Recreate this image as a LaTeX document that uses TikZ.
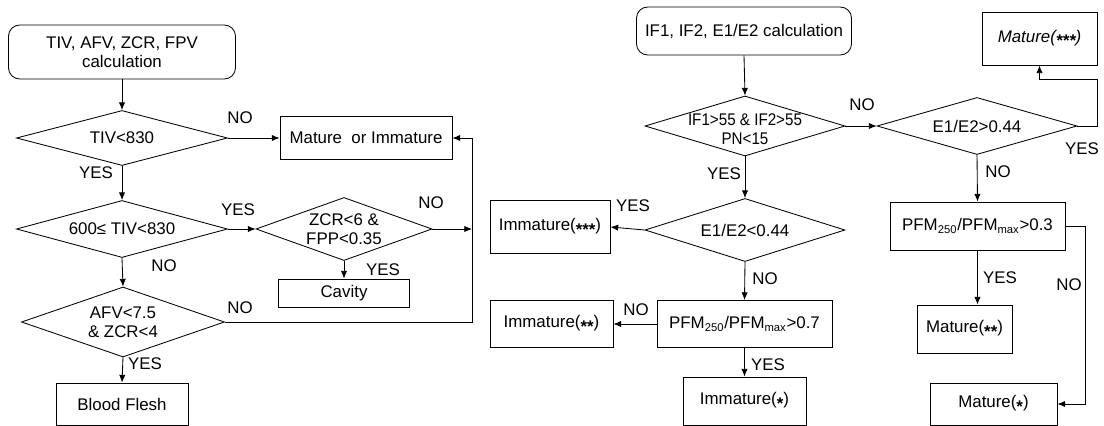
\documentclass[tikz,border=0pt]{standalone}
\usepackage{fontspec}
\setmainfont{Liberation Sans}
\newfontfamily\narrowfont[FakeStretch=0.9]{Liberation Sans}
\usepackage{tikz}
\usetikzlibrary{shapes.geometric,arrows.meta,calc}
\newcommand{\stars}[1]{\raisebox{-0.5ex}{\textbf{#1}}}

\begin{document}
\begin{tikzpicture}[x=0.025cm,y=-0.025cm,
        every node/.style={font=\fontsize{12}{13.5}\selectfont},
        box/.style={draw,rectangle,line width=0.6pt},
        start/.style={box,rounded corners=8pt,align=center},
        dec/.style={draw,diamond,line width=0.6pt,inner sep=0pt},
        lbl/.style={inner sep=0pt},
        arr/.style={line width=0.6pt,-{Latex[length=5.5pt,width=4.5pt]}},
        lin/.style={line width=0.6pt}]
        \useasboundingbox (0,0) rectangle (1104,426);

        \node[start,minimum width=5.675cm,minimum height=1.35cm] (sA) at (122,52) {TIV, AFV, ZCR, FPV\\calculation};
        \node[dec,minimum width=5.275cm,minimum height=1.375cm] (dA) at (122,138) {};
        \node (tA) at (dA) {TIV<830};
        \node[box,minimum width=4.3cm,minimum height=1.075cm] (bMI) at (366,138) {Mature\ \ or Immature};
        \node[dec,minimum width=5.275cm,minimum height=1.425cm] (dB) at (122,229) {};
        \node (tB) at (dB) {600≤ TIV<830};
        \node[dec,minimum width=4.4cm,minimum height=1.575cm] (dC) at (344,229) {};
        \node[align=center] (tC) at (dC) {ZCR<6 \&\\FPP<0.35};
        \node[box,minimum width=3.275cm,minimum height=0.7cm] (bCav) at (344,293) {Cavity};
        \node[dec,minimum width=5.075cm,minimum height=1.75cm] (dD) at (123,322) {};
        \node[align=center] (tD) at (dD) {AFV<7.5\\\& ZCR<4};
        \node[box,minimum width=3.3cm,minimum height=1.05cm] (bBF) at (122,404) {Blood Flesh};

        \node[lbl] (nA) at (240,118) {NO};
        \node[lbl] (yA) at (96,173) {YES};
        \node[lbl] (yB) at (238,210) {YES};
        \node[lbl] (nB) at (164,266) {NO};
        \node[lbl] (yC) at (383,270) {YES};
        \node[lbl] (nC) at (431,203) {NO};
        \node[lbl] (nD) at (240,308) {NO};
        \node[lbl] (yD) at (145,364) {YES};

        \coordinate (jA) at (472,138);
        \draw[arr] (sA.south) -- (dA.north);
        \draw[arr] (dA.east) -- (bMI.west);
        \draw[arr] (dA.south) -- (dB.north);
        \draw[arr] (dB.east) -- (dC.west);
        \draw[arr] (dB.south) -- (dD.north);
        \draw[arr] (dC.south) -- (bCav.north);
        \draw[arr] (dC.east) -- (dC.east -| jA);
        \draw[arr] (dD.east) -| (jA) -- (bMI.east);
        \draw[arr] (dD.south) -- (bBF.north);

        \node[start,minimum width=5.375cm,minimum height=1.2cm] (sB) at (744,31) {IF1, IF2, E1/E2 calculation};
        \node[dec,minimum width=5cm,minimum height=1.5cm] (dE) at (745,126) {};
        \node[align=center,font=\fontsize{12}{13.5}\narrowfont] (tE) at ([yshift=-2pt]dE) {IF1>55 \& IF2>55\\PN<15};
        \node[dec,minimum width=5cm,minimum height=1.575cm] (dF) at (745,230) {};
        \node (tF) at (dF) {E1/E2<0.44};
        \node[box,minimum width=3cm,minimum height=1.325cm] (bI3) at (550,227) {Immature(\stars{***})};
        \node[box,minimum width=4.375cm,minimum height=1.175cm] (bP7) at (744.5,324) {PFM\textsubscript{250}/PFM\textsubscript{max}>0.7};
        \node[box,minimum width=3.075cm,minimum height=1.175cm] (bI2) at (551.5,324) {Immature(\stars{**})};
        \node[box,minimum width=3.075cm,minimum height=1.2cm] (bI1) at (744.5,401) {Immature(\stars{*})};

        \node[lbl] (yE) at (724,174) {YES};
        \node[lbl] (yF) at (633,206) {YES};
        \node[lbl] (nF) at (765,279) {NO};
        \node[lbl] (nP) at (636,310) {NO};
        \node[lbl] (yP) at (768,365) {YES};

        \draw[arr] (sB.south) -- (dE.north);
        \draw[arr] (dE.south) -- (dF.north);
        \draw[arr] (dF.west) -- (bI3.east);
        \draw[arr] (dF.south) -- (bP7.north);
        \draw[arr] (bP7.west) -- (bI2.east);
        \draw[arr] (bP7.south) -- (bI1.north);

        \node[dec,minimum width=5cm,minimum height=1.425cm] (dG) at (977,126) {};
        \node (tG) at (dG) {E1/E2>0.44};
        \node[box,minimum width=2.875cm,minimum height=1.325cm] (bM3) at (1039.5,38.5) {\textit{Mature(\stars{***})}};
        \node[box,minimum width=4.375cm,minimum height=1.2cm] (bP3) at (977.5,226) {PFM\textsubscript{250}/PFM\textsubscript{max}>0.3};
        \node[box,minimum width=2.375cm,minimum height=1.2cm] (bM2) at (964.5,329) {Mature(\stars{**})};
        \node[box,minimum width=3.175cm,minimum height=1.05cm] (bM1) at (993.5,404) {Mature(\stars{*})};

        \node[lbl] (nE) at (862,105) {NO};
        \node[lbl] (yG) at (1082,149) {YES};
        \node[lbl] (nG) at (998,172) {NO};
        \node[lbl] (yQ) at (1000,278) {YES};
        \node[lbl] (nQ) at (1069,285) {NO};

        \coordinate (jB) at (1097,79);
        \coordinate (jC) at (1085,226);
        \draw[arr] (dE.east) -- (dG.west);
        \draw[arr] (dG.east) -| (jB) -| (bM3.south);
        \draw[arr] (dG.south) -- (bP3.north);
        \draw[arr] (bP3.south) -- (bP3.south |- bM2.north);
        \draw[arr] (bP3.east) -- (jC) |- (bM1.east);
\end{tikzpicture}
\end{document}
